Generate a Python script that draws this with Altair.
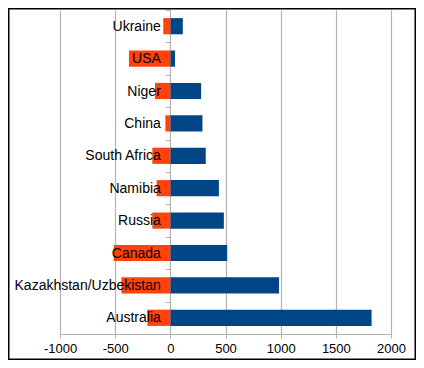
import altair as alt
import pandas as pd

countries = ["Ukraine", "USA", "Niger", "China", "South Africa", "Namibia",
             "Russia", "Canada", "Kazakhstan/Uzbekistan", "Australia"]
positive = [113, 43, 279, 291, 321, 440, 485, 515, 985, 1824]
negative = [-64, -375, -139, -45, -163, -124, -163, -513, -443, -208]
x_ticks = [-1000, -500, 0, 500, 1000, 1500, 2000]

rows = []
for c, p, n in zip(countries, positive, negative):
    rows.append({"country": c, "value": p, "series": "pos"})
    rows.append({"country": c, "value": n, "series": "neg"})
df = pd.DataFrame(rows)

GRID = "#b3b3b3"
FONT = "Liberation Sans"

y = alt.Y(
    "country:N", sort=countries,
    scale=alt.Scale(paddingInner=0, paddingOuter=0),
    axis=alt.Axis(title=None, orient="left", offset=-110.33, domain=False,
                  ticks=True, tickBand="extent", tickSize=5, tickColor=GRID,
                  labelPadding=5, labelFontSize=14, labelColor="black",
                  labelFont=FONT, zindex=1, grid=False),
)
x = alt.X(
    "value:Q",
    scale=alt.Scale(domain=[-1000, 2000], nice=False),
    axis=alt.Axis(title=None, values=x_ticks, grid=True, gridColor=GRID,
                  gridWidth=1.2,
                  domainColor=GRID, tickColor=GRID, tickSize=4,
                  labelFontSize=13, labelFont=FONT, labelColor="black",
                  labelPadding=4, labelFlush=False, labelOverlap=False,
                  labelExpr="datum.value + ''"),
)

bars = alt.Chart(df).mark_bar(height={"band": 0.5}).encode(
    x=x, y=y,
    color=alt.Color("series:N",
                    scale=alt.Scale(domain=["pos", "neg"], range=["#004586", "#ff420e"]),
                    legend=None),
)

frame = alt.Chart(pd.DataFrame({"a": [0]})).mark_rect(
    fillOpacity=0, stroke="black", strokeWidth=1.5
).encode(
    x=alt.value(-51.25), x2=alt.value(355.25),
    y=alt.value(-1.25), y2=alt.value(349.25),
)

chart = alt.layer(bars, frame).properties(
    width=331, height=324,
    autosize=alt.AutoSizeParams(type="none"),
    padding={"left": 52, "top": 2, "right": 25, "bottom": 26},
    background="white",
).configure_view(strokeWidth=0)

chart.save("out.html", embed_options={"renderer": "svg", "actions": False})
